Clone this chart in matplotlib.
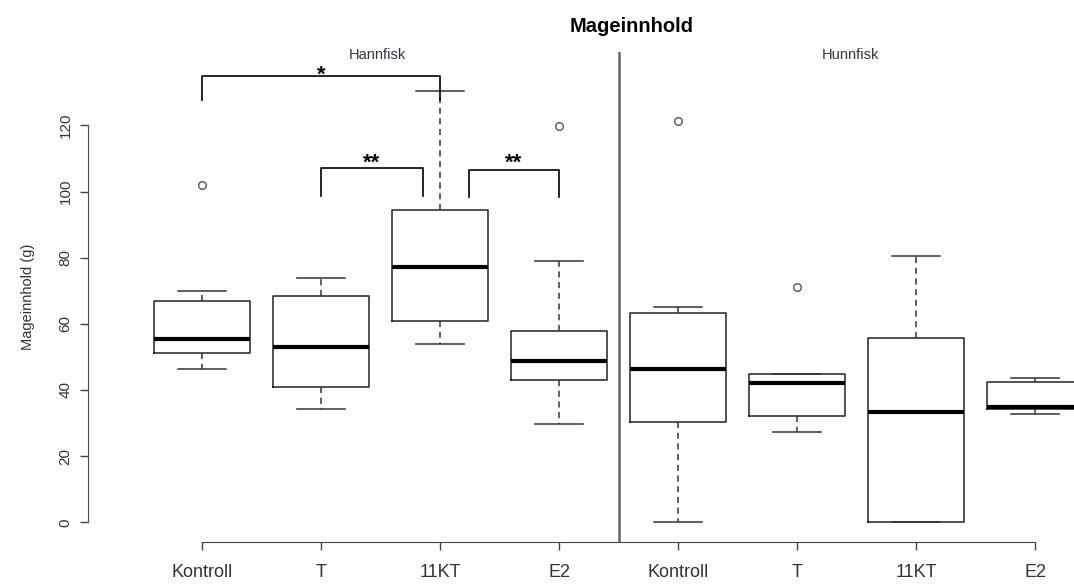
"""Boksplott av mageinnhold for hann- og hunnfisk per behandling."""

import matplotlib

matplotlib.use("Agg")
import matplotlib.pyplot as plt

plt.rcParams["font.family"] = ["Liberation Sans", "DejaVu Sans"]

# grupper (4 hann + 4 hunn)
grupper = ["Kontroll", "T", "11KT", "E2", "Kontroll", "T", "11KT", "E2"]

# statistikk lest av figuren (g)
whisk_lav = [46.2, 34.2, 53.8, 29.7, 0.0, 27.4, 0.0, 32.6]
q1 = [51.3, 41.0, 60.9, 43.0, 30.4, 32.1, 0.0, 34.2]
median = [55.3, 53.1, 77.3, 48.9, 46.2, 42.0, 33.4, 34.8]
q3 = [67.0, 68.4, 94.4, 57.9, 63.2, 44.7, 55.6, 42.5]
whisk_hoy = [70.0, 73.8, 130.4, 79.1, 65.0, 44.7, 80.5, 43.5]
uteliggere = [[102.0], [], [], [119.8], [121.3], [71.2], [], []]

# signifikans-klammer: (x venstre, x hoyre, y topp, y bein, tekst, y tekst)
klammer = [
    (1.0, 3.0, 134.8, 127.7, "*", 133.6),
    (2.0, 2.857, 107.0, 98.7, "**", 106.8),
    (3.244, 4.0, 106.5, 98.3, "**", 106.8),
]

W, H = 1074, 585
fig = plt.figure(figsize=(W / 100, H / 100), dpi=100)

# aksene plasseres i piksler slik at skalaen stemmer med originalen
venstre, hoyre, topp, bunn = 88, 1074, 52, 542
ax = fig.add_axes([venstre / W, 1 - bunn / H, (hoyre - venstre) / W, (bunn - topp) / H])

stats = []
for i in range(len(grupper)):
    stats.append(
        {
            "whislo": whisk_lav[i],
            "q1": q1[i],
            "med": median[i],
            "q3": q3[i],
            "whishi": whisk_hoy[i],
            "fliers": uteliggere[i],
        }
    )

posisjoner = list(range(1, len(grupper) + 1))
ax.bxp(
    stats,
    positions=posisjoner,
    widths=0.8,
    showfliers=True,
    boxprops=dict(color="#222222", linewidth=1.1),
    medianprops=dict(color="black", linewidth=3),
    whiskerprops=dict(color="#333333", linewidth=1.1, linestyle=(0, (4, 3))),
    capprops=dict(color="#333333", linewidth=1.1),
    capwidths=0.4,
    flierprops=dict(marker="o", markerfacecolor="none", markeredgecolor="#555555",
                    markersize=5.5, markeredgewidth=1),
)

ax.set_xlim(1 - (202 - venstre) / 119, 1 + (hoyre - 202) / 119)
ax.set_ylim((522.3 - bunn) / 3.308, (522.3 - topp) / 3.308)

# skillelinje mellom hann og hunn
ax.axvline(4.5, color="#666666", linewidth=1.8)

# signifikans
for x0, x1, ytopp, ybein, tekst, ytekst in klammer:
    ax.plot([x0, x0, x1, x1], [ybein, ytopp, ytopp, ybein], color="black", linewidth=1.2)
    ax.text((x0 + x1) / 2, ytekst, tekst, ha="center", va="baseline", fontsize=16,
            fontweight="bold")

# akser i R-stil
for side in ["top", "right"]:
    ax.spines[side].set_visible(False)
ax.spines["left"].set_bounds(0, 120)
ax.spines["bottom"].set_bounds(1, 8)
ax.spines["left"].set_color("#444444")
ax.spines["bottom"].set_color("#444444")
ax.set_yticks([0, 20, 40, 60, 80, 100, 120])
ax.set_yticklabels([0, 20, 40, 60, 80, 100, 120], rotation=90, va="center")
ax.set_xticks(posisjoner)
ax.set_xticklabels(grupper)
ax.tick_params(axis="both", colors="#444444", labelcolor="#333333", length=6, width=1)
ax.tick_params(axis="x", pad=10, labelsize=13)
ax.tick_params(axis="y", pad=5, labelsize=11)
ax.set_ylabel("Mageinnhold (g)", fontsize=10.5, color="#333333", labelpad=17)

fig.text(632 / W, 1 - 27 / H, "Mageinnhold", ha="center", va="center", fontsize=14.5,
         fontweight="bold")
fig.text(377 / W, 1 - 55 / H, "Hannfisk", ha="center", va="center", fontsize=10.5,
         color="#333344")
fig.text(850 / W, 1 - 55 / H, "Hunnfisk", ha="center", va="center", fontsize=10.5,
         color="#333344")

fig.savefig("out.png", dpi=100)
